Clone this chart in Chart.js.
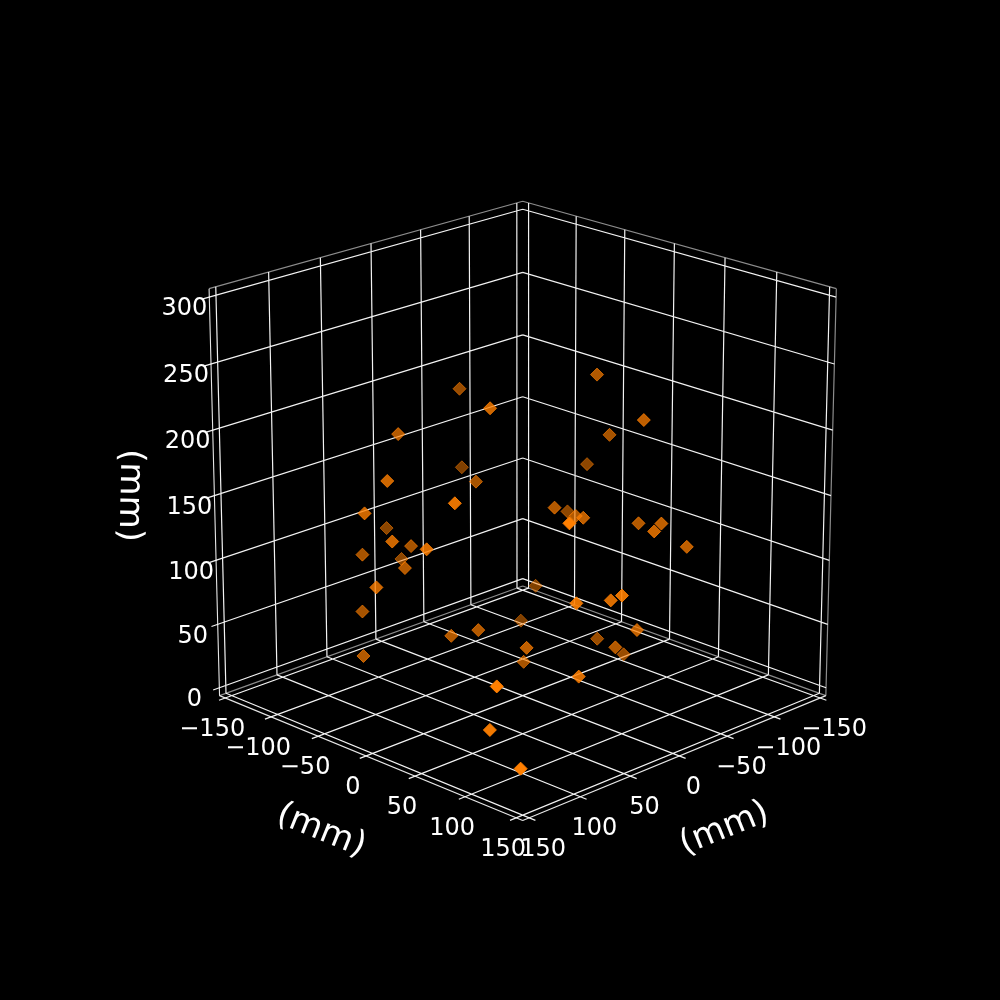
<!DOCTYPE html>
<html>
<head>
    <meta charset="UTF-8">
    <title>3D scatter (mm)</title>
    <style>
        body { margin: 0; background-color: #000; }
        canvas { display: block; }
    </style>
    <script src="https://cdn.jsdelivr.net/npm/chart.js"></script>
</head>
<body>
    <canvas id="scatter3d" width="1000" height="1000"></canvas>

    <script>
        // point values in mm
        const pointX = [-82, 5, 8, -118, -49, 70, 89, 87, -42, 78, -3, 86, 24, -44, 28, 94, 34, 1, 16, 65, -106, -96, -127, -161, -60, -142, -70, -48, 86, -101, -87, -56, -96, -121, 46, 3, 22, -56, -109, -67, -120, 4, -41, 32, 150, 148, 134, -136];
        const pointY = [-149, -28, -121, -184, -98, -67, 22, -73, -188, -54, -120, -10, -144, -174, -94, -54, -134, -45, -58, -100, -29, 28, -36, -92, -27, -94, -15, 14, 131, 19, 55, 77, 72, -123, 99, 91, 120, 61, -30, 29, -13, 8, -40, 88, 148, 123, 102, -122];
        const pointZ = [176, 211, 169, 95, 123, 162, 173, 140, 64, 121, 78, 129, 72, 42, 76, 90, 32, 33, 29, 15, 210, 191, 156, 110, 118, 76, 112, 124, 186, 107, 120, 128, 104, -16, 107, 95, 112, 47, -1, 21, -12, 35, -3, 44, 28, 81, 38, 9];

        const xyTicks = [-150, -100, -50, 0, 50, 100, 150];
        const zTicks = [0, 50, 100, 150, 200, 250, 300];
        const axisLabel = '(mm)';

        // box limits, matplotlib style margin of 1/48 each side
        const L = 156.25;
        const Zmin = -6.25;
        const Zmax = 306.25;
        const tickOut = 6;

        // camera
        const elev = 20 * Math.PI / 180;
        const sinE = Math.sin(elev);
        const cosE = Math.cos(elev);
        const focal = 218;
        const dist = 20;
        const centerX = 522.7;
        const centerY = 495.6;
        const heightScale = 0.993;

        function depth(x, y, z) {
            const a = (x + y) / Math.SQRT2 / L;
            const h = (z - 150) / L * heightScale;
            return a * cosE + h * sinE;
        }

        function project(x, y, z) {
            const a = (x + y) / Math.SQRT2 / L;
            const b = (y - x) / Math.SQRT2 / L;
            const h = (z - 150) / L * heightScale;
            const k = 1 - (a * cosE + h * sinE) / dist;
            const v = h * cosE - a * sinE;
            return { x: centerX + focal * b / k, y: centerY - focal * v / k };
        }

        function segments(list) {
            const out = [];
            list.forEach(function (s) {
                out.push(project(s[0], s[1], s[2]));
                out.push(project(s[3], s[4], s[5]));
                out.push({ x: NaN, y: NaN });
            });
            return out;
        }

        const gridSegs = [];
        xyTicks.forEach(function (t) {
            // floor
            gridSegs.push([t, -L, Zmin, t, L + tickOut, Zmin]);
            gridSegs.push([-L, t, Zmin, L + tickOut, t, Zmin]);
            // walls
            gridSegs.push([t, -L, Zmin, t, -L, Zmax]);
            gridSegs.push([-L, t, Zmin, -L, t, Zmax]);
        });
        zTicks.forEach(function (t) {
            gridSegs.push([L + tickOut, -L, t, -L, -L, t]);
            gridSegs.push([-L, -L, t, -L, L, t]);
        });

        const paneSegs = [
            [L, -L, Zmax, -L, -L, Zmax],
            [-L, -L, Zmax, -L, L, Zmax],
            [L, -L, Zmin, -L, -L, Zmin],
            [-L, -L, Zmin, -L, L, Zmin],
            [-L, L, Zmin, -L, L, Zmax]
        ];

        const axisSegs = [
            [L, -L, Zmin, L, L, Zmin],
            [-L, L, Zmin, L, L, Zmin],
            [L, -L, Zmin, L, -L, Zmax]
        ];

        const points = pointX.map(function (x, i) {
            return project(x, pointY[i], pointZ[i]);
        });

        // depth shading
        const pointAlpha = pointX.map(function (x, i) {
            const a = 1 - (1 - depth(x, pointY[i], pointZ[i])) * 0.208;
            return Math.max(0.4, Math.min(1, a));
        });

        function lineSet(data, color, width) {
            return {
                data: data,
                showLine: true,
                borderColor: color,
                borderWidth: width,
                pointRadius: 0,
                spanGaps: false
            };
        }

        const textPlugin = {
            id: 'boxText',
            afterDraw: function (chart) {
                const ctx = chart.ctx;
                const sx = chart.scales.x;
                const sy = chart.scales.y;

                function put(text, pos, dx, dy, size, angle) {
                    ctx.save();
                    ctx.translate(sx.getPixelForValue(pos.x) + dx, sy.getPixelForValue(pos.y) + dy);
                    ctx.rotate(angle * Math.PI / 180);
                    ctx.font = size + "px 'DejaVu Sans'";
                    ctx.fillStyle = '#fff';
                    ctx.textAlign = 'center';
                    ctx.textBaseline = 'middle';
                    ctx.fillText(text, 0, 0);
                    ctx.restore();
                }

                function tickText(t) {
                    return t < 0 ? '\u2212' + Math.abs(t) : String(t);
                }

                xyTicks.forEach(function (t) {
                    put(tickText(t), project(L, t, Zmin), -13, 31.5, 24, 0);
                    put(tickText(t), project(t, L, Zmin), 14, 31.5, 24, 0);
                });
                zTicks.forEach(function (t) {
                    put(tickText(t), project(L, -L, t), -25, 12, 24, 0);
                });

                put(axisLabel, project(L, 0, Zmin), -45, 75, 34, 22);
                put(axisLabel, project(0, L, Zmin), 45, 73, 34, -22);
                put(axisLabel, project(L, -L, 150), -85, 0, 34, 91);
            }
        };

        new Chart(document.getElementById('scatter3d').getContext('2d'), {
            type: 'scatter',
            data: {
                datasets: [
                    {
                        data: points,
                        pointStyle: 'rectRot',
                        pointRadius: 6.5,
                        pointBorderWidth: 1,
                        pointBackgroundColor: pointAlpha.map(function (a) { return 'rgba(255,127,0,' + a + ')'; }),
                        pointBorderColor: pointAlpha.map(function (a) { return 'rgba(255,127,0,' + a + ')'; })
                    },
                    lineSet(segments(axisSegs), 'rgba(255,255,255,0.9)', 1.1),
                    lineSet(segments(gridSegs), 'rgba(255,255,255,0.95)', 1.2),
                    lineSet(segments(paneSegs), 'rgba(255,255,255,0.55)', 1.2)
                ]
            },
            options: {
                responsive: false,
                animation: false,
                devicePixelRatio: 1,
                layout: { padding: 0, autoPadding: false },
                plugins: { legend: { display: false }, tooltip: { enabled: false } },
                scales: {
                    x: { type: 'linear', min: 0, max: 1000, display: false },
                    y: { type: 'linear', min: 0, max: 1000, reverse: true, display: false }
                }
            },
            plugins: [textPlugin]
        });
    </script>
</body>
</html>
